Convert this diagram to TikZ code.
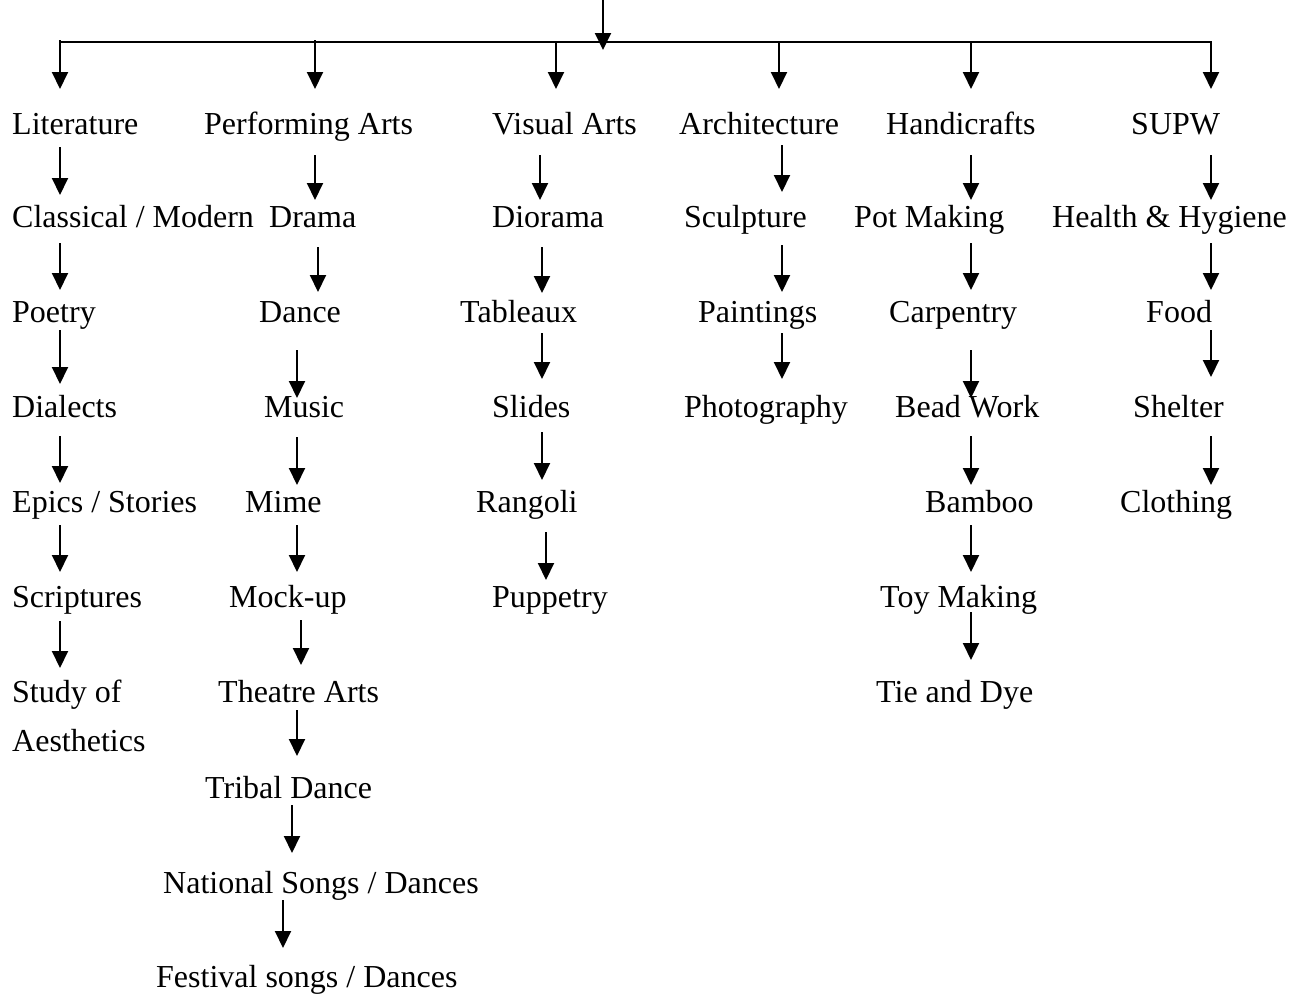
\documentclass[tikz,border=0pt]{standalone}
\usepackage{fontspec}
\setmainfont{Liberation Serif}
\usetikzlibrary{arrows.meta}
\newcommand\varrow[4]{\coordinate (#1s) at (#2,#3); \coordinate (#1e) at (#2,#4); \draw[arr] (#1s) -- (#1e);}
\begin{document}
\begin{tikzpicture}[x=1pt,y=-1pt,
  lbl/.style={anchor=base west,inner sep=0pt,font=\fontsize{32}{38}\selectfont},
  arr/.style={line width=2pt,-{Triangle[width=16pt,length=17pt]}},
  ln/.style={line width=2pt}]
\useasboundingbox[fill=white] (0,0) rectangle (1299,999);
% top bus
\coordinate (hl) at (60,42);
\coordinate (hr) at (1211,42);
\draw[ln] (hl) -- (hr);
\varrow{top}{603}{0}{50}
\varrow{d1}{60}{40}{89}
\varrow{d2}{315}{40}{89}
\varrow{d3}{556}{43}{89}
\varrow{d4}{779}{42}{89}
\varrow{d5}{971}{42}{89}
\varrow{d6}{1211}{41}{89}
% row 1
\node[lbl] (lit) at (12,134) {Literature};
\node[lbl] (perf) at (204,134) {Performing Arts};
\node[lbl] (vis) at (492,134) {Visual Arts};
\node[lbl] (arch) at (679,134) {Architecture};
\node[lbl] (hand) at (886,134) {Handicrafts};
\node[lbl] (supw) at (1131,134) {SUPW};
% row 2
\node[lbl] (clas) at (12,227) {Classical / Modern};
\node[lbl] (drama) at (269,227) {Drama};
\node[lbl] (dior) at (492,227) {Diorama};
\node[lbl] (sculp) at (684,227) {Sculpture};
\node[lbl] (pot) at (854,227) {Pot Making};
\node[lbl] (health) at (1052,227) {Health \& Hygiene};
% row 3
\node[lbl] (poet) at (12,322) {Poetry};
\node[lbl] (dance) at (259,322) {Dance};
\node[lbl] (tabl) at (460,322) {Tableaux};
\node[lbl] (paint) at (698,322) {Paintings};
\node[lbl] (carp) at (889,322) {Carpentry};
\node[lbl] (food) at (1146,322) {Food};
% row 4
\node[lbl] (dial) at (12,417) {Dialects};
\node[lbl] (music) at (264,417) {Music};
\node[lbl] (slides) at (492,417) {Slides};
\node[lbl] (photo) at (684,417) {Photography};
\node[lbl] (bead) at (895,417) {Bead Work};
\node[lbl] (shelt) at (1133,417) {Shelter};
% row 5
\node[lbl] (epic) at (12,512) {Epics / Stories};
\node[lbl] (mime) at (245,512) {Mime};
\node[lbl] (rang) at (476,512) {Rangoli};
\node[lbl] (bamb) at (925,512) {Bamboo};
\node[lbl] (cloth) at (1120,512) {Clothing};
% row 6
\node[lbl] (scri) at (12,607) {Scriptures};
\node[lbl] (mock) at (229,607) {Mock-up};
\node[lbl] (pupp) at (492,607) {Puppetry};
\node[lbl] (toy) at (880,607) {Toy Making};
% row 7
\node[lbl] (study) at (12,702) {Study of};
\node[lbl] (aest) at (12,751) {Aesthetics};
\node[lbl] (theat) at (218,702) {Theatre Arts};
\node[lbl] (tie) at (876,702) {Tie and Dye};
% rows 8-10
\node[lbl] (trib) at (205,798) {Tribal Dance};
\node[lbl] (nat) at (163,893) {National Songs / Dances};
\node[lbl] (fest) at (156,987) {Festival songs / Dances};
% column 1 arrows
\varrow{a1}{60}{147}{195}
\varrow{a2}{60}{243}{290}
\varrow{a3}{60}{330}{384}
\varrow{a4}{60}{436}{483}
\varrow{a5}{60}{525}{572}
\varrow{a6}{60}{621}{668}
% column 2 arrows
\varrow{b1}{315}{155}{200}
\varrow{b2}{318}{247}{292}
\varrow{b3}{297}{350}{398}
\varrow{b4}{297}{437}{485}
\varrow{b5}{297}{525}{572}
\varrow{b6}{301}{620}{665}
\varrow{b7}{297}{710}{756}
\varrow{b8}{292}{805}{853}
\varrow{b9}{283}{900}{948}
% column 3 arrows
\varrow{c1}{540}{155}{200}
\varrow{c2}{542}{247}{293}
\varrow{c3}{542}{333}{379}
\varrow{c4}{542}{432}{480}
\varrow{c5}{546}{532}{580}
% column 4 arrows
\varrow{e1}{782}{145}{192}
\varrow{e2}{782}{245}{292}
\varrow{e3}{782}{333}{379}
% column 5 arrows
\varrow{f1}{971}{155}{200}
\varrow{f2}{971}{243}{290}
\varrow{f3}{971}{350}{398}
\varrow{f4}{971}{436}{485}
\varrow{f5}{971}{525}{572}
\varrow{f6}{971}{612}{660}
% column 6 arrows
\varrow{g1}{1211}{155}{200}
\varrow{g2}{1211}{243}{290}
\varrow{g3}{1211}{330}{377}
\varrow{g4}{1211}{436}{485}
\end{tikzpicture}
\end{document}
